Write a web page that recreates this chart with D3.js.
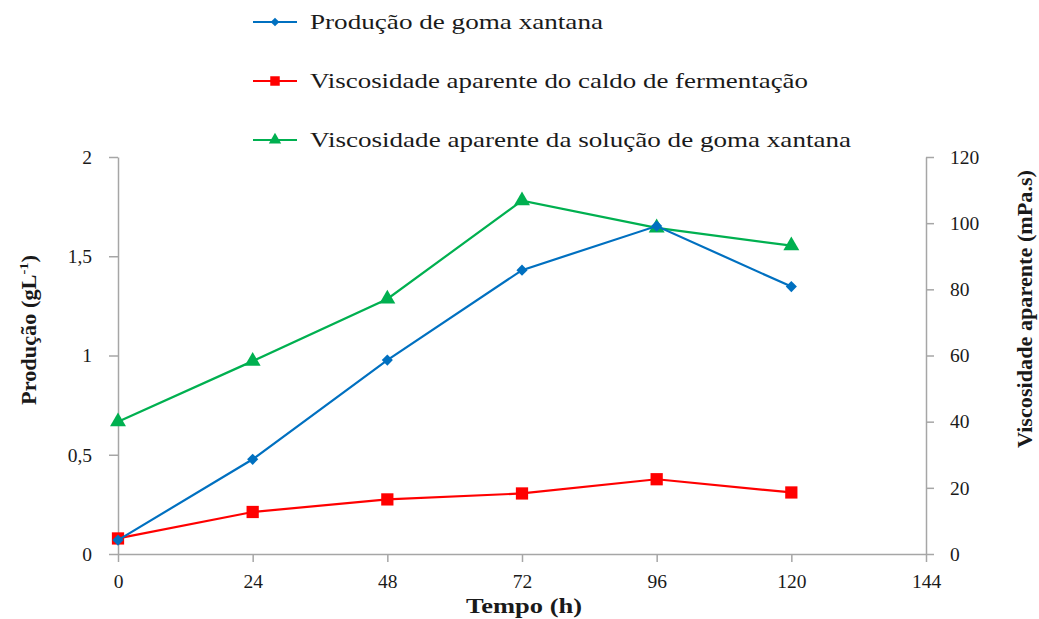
<!DOCTYPE html>
<html><head><meta charset="utf-8">
<script src="https://cdn.jsdelivr.net/npm/d3@7"></script>
<style>body{margin:0;background:#fff}svg{display:block}</style>
</head><body>
<svg id="c" width="1039" height="619"></svg>
<script>
const times = [0, 24, 48, 72, 96, 120];
const xTicks = [0, 24, 48, 72, 96, 120, 144];
const leftTicks = [0, 0.5, 1, 1.5, 2];
const rightTicks = [0, 20, 40, 60, 80, 100, 120];
const producao = [0.07, 0.477, 0.977, 1.43, 1.652, 1.347];
const viscCaldo = [4.7, 12.7, 16.5, 18.3, 22.6, 18.6];
const viscSolucao = [40, 58.3, 77.1, 106.8, 98.6, 93.2];
const seriesNames = ["Produção de goma xantana", "Viscosidade aparente do caldo de fermentação", "Viscosidade aparente da solução de goma xantana"];
const colors = ["#0070C0", "#FF0000", "#00B050"];

const FONT = '"Liberation Serif", "Times New Roman", Tinos, "DejaVu Serif", serif';
const svg = d3.select("#c").attr("font-family", FONT);
const x = d3.scaleLinear().domain([0,144]).range([118,926]);
const yL = d3.scaleLinear().domain([0,2]).range([554,157]);
const yR = d3.scaleLinear().domain([0,120]).range([554,157]);
const axisColor = "#A6A6A6";
const fmt = d => String(d).replace(".", ",");

function styleAxis(g){
  g.attr("font-family", FONT);
  g.selectAll("path").attr("stroke", axisColor).attr("stroke-width", 1.5);
  g.selectAll("line").attr("stroke", axisColor).attr("stroke-width", 1.5);
  g.selectAll("text").attr("fill", "#1a1a1a").attr("font-size", 19.5);
}
const gx = svg.append("g").attr("transform","translate(0,554)")
  .call(d3.axisBottom(x).tickValues(xTicks).tickSize(8).tickSizeOuter(0).tickPadding(12));
styleAxis(gx);
const gl = svg.append("g").attr("transform","translate(118,0)")
  .call(d3.axisLeft(yL).tickValues(leftTicks).tickFormat(fmt).tickSize(9).tickSizeOuter(0).tickPadding(17));
styleAxis(gl);
const gr = svg.append("g").attr("transform","translate(926,0)")
  .call(d3.axisRight(yR).tickValues(rightTicks).tickSize(8).tickSizeOuter(0).tickPadding(16));
styleAxis(gr);

// axis titles
svg.append("text").attr("x", 524).attr("y", 613).attr("text-anchor","middle")
  .attr("font-size",20).attr("font-weight","bold").attr("fill","#1a1a1a")
  .attr("textLength",116).attr("lengthAdjust","spacingAndGlyphs").text("Tempo (h)");
const lt = svg.append("text").attr("transform","translate(36,330) rotate(-90)").attr("text-anchor","middle")
  .attr("font-size",20).attr("font-weight","bold").attr("fill","#1a1a1a")
  .attr("textLength",150).attr("lengthAdjust","spacingAndGlyphs");
lt.append("tspan").text("Produção (gL");
lt.append("tspan").attr("dy",-8).attr("font-size",13).text("-1");
lt.append("tspan").attr("dy",8).text(")");
svg.append("text").attr("transform","translate(1032,309) rotate(-90)").attr("text-anchor","middle")
  .attr("font-size",20).attr("font-weight","bold").attr("fill","#1a1a1a")
  .attr("textLength",278).attr("lengthAdjust","spacingAndGlyphs").text("Viscosidade aparente (mPa.s)");

const data = [
  {vals: producao, y: yL, sym: d3.symbolSquare, size: 62, rot: 45},
  {vals: viscCaldo, y: yR, sym: d3.symbolSquare, size: 150, rot: 0},
  {vals: viscSolucao, y: yR, sym: d3.symbolTriangle, size: 110, rot: 0}
];
[2,1,0].forEach(i => {
  const s = data[i];
  const pts = times.map((t,j)=>[x(t), s.y(s.vals[j])]);
  svg.append("path").attr("d", d3.line()(pts)).attr("fill","none").attr("stroke", colors[i]).attr("stroke-width", 2.2);
  svg.selectAll(null).data(pts).enter().append("path")
    .attr("d", d3.symbol().type(s.sym).size(s.size))
    .attr("transform", d=>`translate(${d[0]},${d[1]}) rotate(${s.rot})`).attr("fill", colors[i]);
});

// legend
const ly = [22, 81, 140];
const legendLen = [293, 498, 541];
seriesNames.forEach((n,i)=>{
  const s = data[i];
  svg.append("line").attr("x1",253).attr("x2",297).attr("y1",ly[i]).attr("y2",ly[i]).attr("stroke",colors[i]).attr("stroke-width",2.2);
  svg.append("path").attr("d", d3.symbol().type(s.sym).size(s.size*0.6))
    .attr("transform",`translate(275,${ly[i]}) rotate(${s.rot})`).attr("fill",colors[i]);
  svg.append("text").attr("x",310).attr("y",ly[i]+7).attr("font-size",21).attr("fill","#1a1a1a")
    .attr("textLength",legendLen[i]).attr("lengthAdjust","spacingAndGlyphs").text(n);
});
</script>
</body></html>
